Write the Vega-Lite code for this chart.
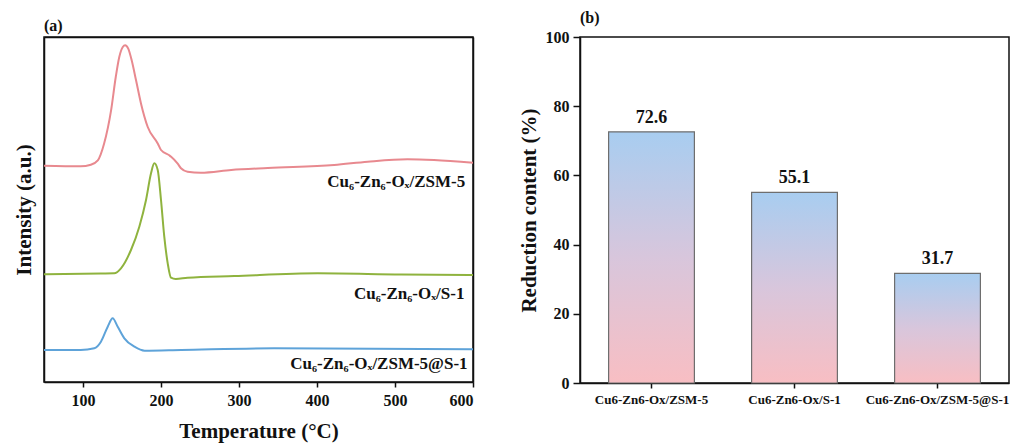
{
  "$schema": "https://vega.github.io/schema/vega-lite/v6.json",
  "autosize": {"type": "pad"},
  "padding": {"left": 12, "top": 9, "right": 5, "bottom": 5},
  "background": "white",
  "config": {
    "font": "Liberation Serif",
    "view": {"stroke": "#111", "strokeWidth": 1.5},
    "axis": {"grid": false, "domainColor": "#111", "domainWidth": 1.5, "tickColor": "#111", "tickWidth": 1.5, "labelFont": "Liberation Serif", "labelFontWeight": "bold", "labelColor": "#111", "titleFont": "Liberation Serif", "titleFontWeight": "bold", "titleColor": "#111"},
    "title": {"font": "Liberation Serif", "fontWeight": "bold", "fontSize": 16, "color": "#111", "anchor": "start", "frame": "group", "offset": 3},
    "concat": {"spacing": 107}
  },
  "bounds": "flush",
  "datasets": {
    "curves": [
      {"s": "ZSM-5", "T": 50, "I": 216.3}, {"s": "ZSM-5", "T": 97, "I": 215.7}, {"s": "ZSM-5", "T": 110, "I": 217.3}, {"s": "ZSM-5", "T": 119, "I": 221.7}, {"s": "ZSM-5", "T": 127, "I": 238.3}, {"s": "ZSM-5", "T": 136, "I": 271.7}, {"s": "ZSM-5", "T": 142, "I": 305}, {"s": "ZSM-5", "T": 146.5, "I": 325}, {"s": "ZSM-5", "T": 151, "I": 335}, {"s": "ZSM-5", "T": 154, "I": 336.7}, {"s": "ZSM-5", "T": 158, "I": 333.3}, {"s": "ZSM-5", "T": 162.4, "I": 321.7}, {"s": "ZSM-5", "T": 168, "I": 301.7}, {"s": "ZSM-5", "T": 174.4, "I": 278.3}, {"s": "ZSM-5", "T": 183, "I": 255}, {"s": "ZSM-5", "T": 196, "I": 238.3}, {"s": "ZSM-5", "T": 200, "I": 232}, {"s": "ZSM-5", "T": 210.6, "I": 226.7}, {"s": "ZSM-5", "T": 213, "I": 225.3}, {"s": "ZSM-5", "T": 221.4, "I": 218.3}, {"s": "ZSM-5", "T": 225.6, "I": 213.7}, {"s": "ZSM-5", "T": 234, "I": 210.3}, {"s": "ZSM-5", "T": 251, "I": 209.3}, {"s": "ZSM-5", "T": 290, "I": 212}, {"s": "ZSM-5", "T": 337, "I": 214}, {"s": "ZSM-5", "T": 422, "I": 217}, {"s": "ZSM-5", "T": 465, "I": 220.3}, {"s": "ZSM-5", "T": 516, "I": 222.7}, {"s": "ZSM-5", "T": 550, "I": 222}, {"s": "ZSM-5", "T": 600, "I": 219.3},
      {"s": "S-1", "T": 50, "I": 107.7}, {"s": "S-1", "T": 123, "I": 108.5}, {"s": "S-1", "T": 140, "I": 108.7}, {"s": "S-1", "T": 148.7, "I": 113.7}, {"s": "S-1", "T": 161.5, "I": 132}, {"s": "S-1", "T": 172.2, "I": 155.3}, {"s": "S-1", "T": 180.8, "I": 182}, {"s": "S-1", "T": 187.2, "I": 208.7}, {"s": "S-1", "T": 191.4, "I": 218.7}, {"s": "S-1", "T": 195.8, "I": 212}, {"s": "S-1", "T": 200, "I": 182}, {"s": "S-1", "T": 204.2, "I": 145.3}, {"s": "S-1", "T": 208.6, "I": 118.7}, {"s": "S-1", "T": 212.8, "I": 104.3}, {"s": "S-1", "T": 219, "I": 103}, {"s": "S-1", "T": 234, "I": 104.3}, {"s": "S-1", "T": 294, "I": 106}, {"s": "S-1", "T": 401, "I": 108.7}, {"s": "S-1", "T": 508, "I": 107.5}, {"s": "S-1", "T": 600, "I": 107},
      {"s": "ZSM-5@S-1", "T": 50, "I": 32}, {"s": "ZSM-5@S-1", "T": 97, "I": 32}, {"s": "ZSM-5@S-1", "T": 114.5, "I": 33.7}, {"s": "ZSM-5@S-1", "T": 123, "I": 40.3}, {"s": "ZSM-5@S-1", "T": 131.7, "I": 55.3}, {"s": "ZSM-5@S-1", "T": 138, "I": 63.7}, {"s": "ZSM-5@S-1", "T": 144.5, "I": 55.3}, {"s": "ZSM-5@S-1", "T": 153, "I": 43.7}, {"s": "ZSM-5@S-1", "T": 166, "I": 35.3}, {"s": "ZSM-5@S-1", "T": 179, "I": 31.3}, {"s": "ZSM-5@S-1", "T": 226, "I": 32}, {"s": "ZSM-5@S-1", "T": 345, "I": 33.7}, {"s": "ZSM-5@S-1", "T": 600, "I": 32.7}
    ],
    "labels": [
      {"label": "Cu₆-Zn₆-Oₓ/ZSM-5", "T": 590, "I": 200},
      {"label": "Cu₆-Zn₆-Oₓ/S-1", "T": 589, "I": 88},
      {"label": "Cu₆-Zn₆-Oₓ/ZSM-5@S-1", "T": 593, "I": 18}
    ],
    "bars": [
      {"cat": "Cu6-Zn6-Ox/ZSM-5", "v": 72.6},
      {"cat": "Cu6-Zn6-Ox/S-1", "v": 55.1},
      {"cat": "Cu6-Zn6-Ox/ZSM-5@S-1", "v": 31.7}
    ]
  },
  "hconcat": [
    {
      "width": 429,
      "height": 345,
      "title": {"text": "(a)"},
      "view": {"stroke": "#111", "strokeWidth": 1.5},
      "layer": [
        {
          "data": {"name": "curves"},
          "mark": {"type": "line", "strokeWidth": 2, "interpolate": "monotone"},
          "encoding": {
            "x": {"field": "T", "type": "quantitative", "scale": {"domain": [50, 600], "nice": false, "zero": false}, "axis": {"title": "Temperature (°C)", "values": [100, 200, 300, 400, 500, 600], "tickSize": 5, "labelFontSize": 16, "labelPadding": 5, "titleFontSize": 21, "titlePadding": 12}},
            "y": {"field": "I", "type": "quantitative", "scale": {"domain": [0, 345], "nice": false}, "axis": {"title": "Intensity (a.u.)", "labels": false, "ticks": false, "titleFontSize": 21, "titlePadding": 10}},
            "color": {"field": "s", "type": "nominal", "scale": {"domain": ["ZSM-5", "S-1", "ZSM-5@S-1"], "range": ["#e8898f", "#8fb33e", "#5ea3d9"]}, "legend": null},
            "detail": {"field": "s"}
          }
        },
        {
          "data": {"name": "labels"},
          "mark": {"type": "text", "align": "right", "baseline": "middle", "fontSize": 17, "fontWeight": "bold", "font": "Liberation Serif", "color": "#111"},
          "encoding": {
            "x": {"field": "T", "type": "quantitative", "axis": {"orient": "top", "labels": false, "ticks": false, "title": null}},
            "y": {"field": "I", "type": "quantitative", "axis": {"orient": "right", "labels": false, "ticks": false, "title": null}},
            "text": {"field": "label"}
          }
        }
      ],
      "resolve": {"axis": {"x": "independent", "y": "independent"}}
    },
    {
      "width": 429,
      "height": 346,
      "title": {"text": "(b)"},
      "view": {"stroke": "#111", "strokeWidth": 1.5},
      "data": {"name": "bars"},
      "layer": [
        {
          "mark": {"type": "bar", "stroke": "#6e6e6e", "strokeWidth": 1.2, "color": {"gradient": "linear", "x1": 0, "y1": 0, "x2": 0, "y2": 1, "stops": [{"offset": 0, "color": "#a8cdf0"}, {"offset": 0.5, "color": "#d8c6dc"}, {"offset": 1, "color": "#f8bec3"}]}},
          "encoding": {
            "x": {"field": "cat", "type": "nominal", "sort": null, "scale": {"paddingInner": 0.4, "paddingOuter": 0.2}, "axis": {"title": null, "labelAngle": 0, "labelFontSize": 13, "tickSize": 5, "labelPadding": 5}},
            "y": {"field": "v", "type": "quantitative", "scale": {"domain": [0, 100], "nice": false}, "axis": {"title": "Reduction content (%)", "values": [0, 20, 40, 60, 80, 100], "tickSize": 7, "labelFontSize": 16, "labelPadding": 4, "titleFontSize": 21, "titlePadding": 6}}
          }
        },
        {
          "mark": {"type": "text", "baseline": "alphabetic", "dy": -9, "fontSize": 18, "fontWeight": "bold", "font": "Liberation Serif", "color": "#111"},
          "encoding": {
            "x": {"field": "cat", "type": "nominal", "sort": null},
            "y": {"field": "v", "type": "quantitative"},
            "text": {"field": "v", "type": "quantitative", "format": ".1f"}
          }
        }
      ]
    }
  ]
}
